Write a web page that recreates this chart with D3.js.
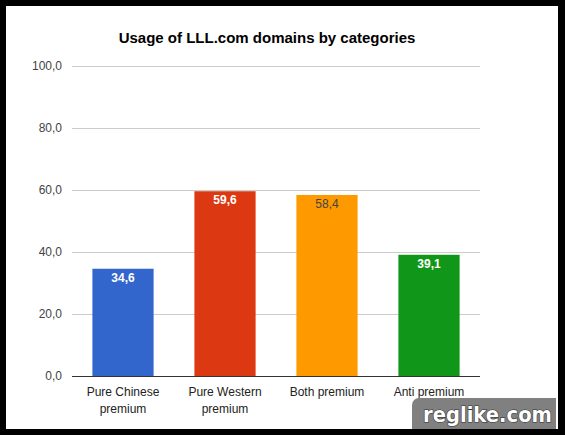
<!DOCTYPE html>
<html>
<head>
<meta charset="utf-8">
<script src="https://cdn.jsdelivr.net/npm/d3@7"></script>
<style>
  body { margin: 0; background: #000; }
  svg { display: block; }
</style>
</head>
<body>
<div id="vis"></div>
<script>
// chart data
var categories = [["Pure Chinese", "premium"], ["Pure Western", "premium"], ["Both premium"], ["Anti premium"]];
var values = [34.6, 59.6, 58.4, 39.1];
var colors = ["#3366cc", "#dc3912", "#ff9900", "#109618"];
var labelColors = ["#fff", "#fff", "#444", "#fff"];
var yTicks = [0, 20, 40, 60, 80, 100];

var W = 565, H = 435;
var margin = {top: 66, right: 85, bottom: 59, left: 72},
    width = W - margin.left - margin.right,
    height = H - margin.top - margin.bottom;

var svg = d3.select("#vis").append("svg")
  .attr("width", W)
  .attr("height", H)
  .style("font-family", "Arial, 'Liberation Sans', sans-serif");

// black frame around white page
svg.append("rect").attr("width", W).attr("height", H).attr("fill", "#000");
svg.append("rect").attr("x", 6).attr("y", 6).attr("width", 552).attr("height", 423).attr("fill", "#fff");

svg.append("text")
  .attr("x", 267).attr("y", 43)
  .attr("text-anchor", "middle")
  .style("font-size", "15px").style("font-weight", "bold").style("fill", "#000")
  .text("Usage of LLL.com domains by categories");

var g = svg.append("g")
  .attr("transform", "translate(" + margin.left + "," + margin.top + ")");

var x = d3.scaleBand()
  .domain(d3.range(categories.length))
  .range([0, width])
  .paddingInner(0.4)
  .paddingOuter(0.2);

var y = d3.scaleLinear()
  .domain([0, 100])
  .range([height, 0]);

// gridlines
g.selectAll(".grid").data(yTicks.slice(1)).enter().append("line")
  .attr("x1", 0).attr("x2", width)
  .attr("y1", function(d){ return y(d) + 0.5 })
  .attr("y2", function(d){ return y(d) + 0.5 })
  .attr("stroke", "#ccc");

var yAxis = d3.axisLeft(y)
  .tickValues(yTicks)
  .tickSize(0)
  .tickPadding(10)
  .tickFormat(function(d){ return d3.format(".1f")(d).replace(".", ",") });

g.append("g").call(yAxis)
  .call(function(s){ s.select(".domain").remove() })
  .selectAll("text")
    .style("font-size", "12px").style("fill", "#444").style("font-family", "Arial, 'Liberation Sans', sans-serif");

// bars
g.selectAll(".bar").data(values).enter().append("rect")
  .attr("x", function(d, i){ return x(i) })
  .attr("y", function(d){ return y(d) })
  .attr("width", x.bandwidth())
  .attr("height", function(d){ return height - y(d) })
  .attr("fill", function(d, i){ return colors[i] });

// value labels
g.selectAll(".val").data(values).enter().append("text")
  .attr("x", function(d, i){ return x(i) + x.bandwidth() / 2 })
  .attr("y", function(d){ return y(d) + 13 })
  .attr("text-anchor", "middle")
  .style("font-size", "12px")
  .style("font-weight", function(d, i){ return labelColors[i] == "#fff" ? "bold" : "normal" })
  .style("fill", function(d, i){ return labelColors[i] })
  .text(function(d){ return d3.format(".1f")(d).replace(".", ",") });

// baseline
g.append("line")
  .attr("x1", 0).attr("x2", width)
  .attr("y1", height + 0.5).attr("y2", height + 0.5)
  .attr("stroke", "#333");

// category labels
var cat = g.selectAll(".cat").data(categories).enter().append("text")
  .attr("text-anchor", "middle")
  .attr("transform", function(d, i){ return "translate(" + (x(i) + x.bandwidth() / 2) + "," + (height + 20) + ")" })
  .style("font-size", "12px").style("fill", "#222");
cat.selectAll("tspan").data(function(d){ return d }).enter().append("tspan")
  .attr("x", 0)
  .attr("dy", function(d, i){ return i ? 17 : 0 })
  .text(function(d){ return d });

// watermark
var wm = svg.append("g");
wm.append("clipPath").attr("id", "wmclip")
  .append("rect").attr("x", 0).attr("y", 0).attr("width", 556).attr("height", 429);
wm.append("rect")
  .attr("clip-path", "url(#wmclip)")
  .attr("x", 412).attr("y", 398).attr("width", 160).attr("height", 45)
  .attr("rx", 7).attr("fill", "#808080");
wm.append("text")
  .attr("x", 487.5).attr("y", 422)
  .attr("text-anchor", "middle")
  .attr("textLength", 129)
  .attr("lengthAdjust", "spacingAndGlyphs")
  .style("font-size", "21px").style("font-weight", "bold")
  .style("font-family", "Verdana, 'DejaVu Sans', sans-serif")
  .style("fill", "#fff")
  .style("stroke", "#333").style("stroke-width", 1.2).style("paint-order", "stroke")
  .text("reglike.com");
</script>
</body>
</html>
